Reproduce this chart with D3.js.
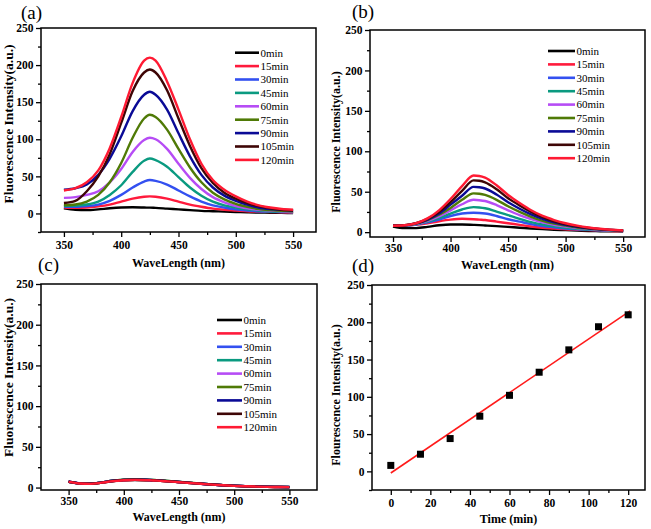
<!DOCTYPE html>
<html><head><meta charset="utf-8">
<script src="https://cdn.jsdelivr.net/npm/d3@7"></script>
<style>body{margin:0;background:#fff}svg{display:block}
svg text{font-family:"Liberation Serif","DejaVu Serif",serif;}
</style></head>
<body><svg id="chart" width="651" height="529"></svg>
<script>
const wavelengths=[350,360,370,380,390,400,410,420,425,430,440,450,460,470,480,490,500,510,520,530,540,550];
const seriesNames=["0min","15min","30min","45min","60min","75min","90min","105min","120min"];
const seriesColors=["#000000","#ff1a3c","#3350f0","#0a9a80","#b64cf5","#4f7a06","#0a0a96","#3e0505","#ff1a33"];

const panelA0=[7,5,4.5,5.5,7,8,8.3,8,7.8,7.5,6.5,5.5,4.5,3.5,3,2.5,2,1.5,1.2,1,0.8,0.6];
const panelA15=[8,7.5,8,9.5,12,16,20,22.5,23,22.5,20,16,12,9,6.5,5,4,3,2.5,2,1.5,1];
const panelA30=[9,9,10,12,17,25,35,43,45,44,39,31,23,16,11,8,5.5,4,3,2.5,2,1.5];
const panelA45=[10,10.5,12,16,25,38,56,71,74,72,63,49,35,24,16,11,8,5.5,4,3,2.5,2];
const panelA60=[21,22,25,30,42,60,83,99,102,100,87,67,48,33,22,15,10,7,5,4,3,2.5];
const panelA75=[11,12,16,25,42,68,102,128,133,130,113,87,62,42,28,19,13,9,6,4.5,3.5,3];
const panelA90=[32,34,39,52,74,104,138,160,164,160,140,108,77,52,35,24,17,12,8,6,5,4];
const panelA105=[14,17,30,50,80,122,165,190,194,190,166,128,91,61,41,28,20,14,10,7,5,4];
const panelA120=[31,34,42,58,88,130,176,206,210,206,178,140,100,67,45,32,23,16,11,8,6,5];

const panelB0=[7,5,5,6.5,8.5,9.5,9.5,9,8.7,8.3,7.5,6.5,5.5,4.5,3.7,3,2.5,2,1.5,1.2,1,0.8];
const panelB15=[8,8,9,11,13.5,15.5,16.5,16,15.5,15,13,11,9,7,5.5,4.5,3.5,3,2.5,2,1.5,1.2];
const panelB30=[8,8,9.5,12,15.5,20,23,24,23.7,23,20,16,13,10,7.5,6,4.5,3.5,3,2.2,1.8,1.4];
const panelB45=[8,8.2,10,13,17.5,23,28,31,30.5,29.5,25.5,21,16.5,12.5,9.5,7.2,5.5,4.2,3.2,2.5,2,1.5];
const panelB60=[8,8.3,10.3,14,19.5,27,34.5,40,39.5,38.5,33.5,27,21,16,12,9,6.8,5,3.8,2.8,2.2,1.6];
const panelB75=[8,8.4,10.5,15,21.5,30,40,48,47.5,46,40,32,25,19,14,10.5,8,5.8,4.3,3.2,2.4,1.7];
const panelB90=[8,8.4,10.8,15.5,23,34,45,56,55.5,54,46.5,37,29,22,16.5,12,9,6.5,4.8,3.5,2.6,1.8];
const panelB105=[8,8.5,11,16.5,25,37,51,64,63.5,61.5,53,42,33,25,18.5,13.5,10,7.2,5.2,3.8,2.8,2];
const panelB120=[8,8.5,11,17,27,41,57,70,69.5,67.5,58,46,36,27,20,15,11,8,5.8,4.2,3,2];

const panelC0=[7,5,4.5,6,7.8,8.8,9.2,9,8.8,8.5,7.6,6.6,5.6,4.6,3.6,2.8,2.1,1.6,1.2,0.9,0.7,0.5];
const panelC15=[7.2,5.2,4.6,6.1,8,9,9.4,9.1,8.9,8.6,7.7,6.7,5.6,4.6,3.6,2.8,2.1,1.6,1.2,0.9,0.7,0.5];
const panelC30=[7.1,5.1,4.7,6.3,8.2,9.3,9.7,9.4,9.1,8.8,7.9,6.8,5.7,4.7,3.7,2.9,2.2,1.7,1.3,1,0.7,0.5];
const panelC45=[7,5.1,4.8,6.4,8.4,9.5,9.9,9.6,9.3,9,8,6.9,5.8,4.8,3.8,2.9,2.2,1.7,1.3,1,0.8,0.6];
const panelC60=[7.1,5.2,4.8,6.3,8.3,9.4,9.8,9.5,9.2,8.9,7.9,6.9,5.8,4.7,3.7,2.9,2.2,1.7,1.3,1,0.8,0.6];
const panelC75=[7,5.1,4.7,6.4,8.5,9.6,10,9.7,9.4,9.1,8.1,7,5.9,4.8,3.8,3,2.3,1.7,1.3,1,0.8,0.6];
const panelC90=[7.2,5.2,4.8,6.3,8.3,9.4,9.8,9.5,9.2,8.9,7.9,6.9,5.8,4.7,3.7,2.9,2.2,1.7,1.3,1,0.8,0.6];
const panelC105=[7.1,5.1,4.6,6.1,8.1,9.2,9.6,9.3,9,8.7,7.8,6.8,5.7,4.7,3.7,2.8,2.1,1.6,1.2,0.9,0.7,0.5];
const panelC120=[7,5,4.5,6,7.9,9,9.4,9.1,8.8,8.5,7.6,6.6,5.6,4.6,3.6,2.8,2.1,1.6,1.2,0.9,0.7,0.5];

const timePoints=[0,15,30,45,60,75,90,105,120];
const peakIntensity=[8,23,44,74,102,133,163,194,210];

const yTicks=[0,50,100,150,200,250];
const yMinorTicks=[-25,25,75,125,175,225];
const waveTicks=[350,400,450,500,550];
const waveMinorTicks=[375,425,475,525];
const timeTicks=[0,20,40,60,80,100,120];
const timeMinorTicks=[-10,10,30,50,70,90,110];

const svg=d3.select("#chart");

function panel(o){
  const g=svg.append("g");
  const x=d3.scaleLinear().domain(o.xd).range([o.x0,o.x1]);
  const y=d3.scaleLinear().domain(o.yd).range([o.y1,o.y0]);
  const yMinor=o.ymin.filter(v=>v>=o.yd[0]&&v<=o.yd[1]);
  const xMinor=o.xmin.filter(v=>v>=o.xd[0]&&v<=o.xd[1]);
  g.append("g").attr("transform",`translate(${o.x0},0)`)
    .call(d3.axisLeft(y).tickValues(yTicks).tickSize(5).tickPadding(2.5));
  g.append("g").attr("transform",`translate(${o.x0},0)`)
    .call(d3.axisLeft(y).tickValues(yMinor).tickSize(3).tickFormat(""));
  g.append("g").attr("transform",`translate(0,${o.y1})`)
    .call(d3.axisBottom(x).tickValues(o.xt).tickSize(5).tickPadding(o.xpad));
  g.append("g").attr("transform",`translate(0,${o.y1})`)
    .call(d3.axisBottom(x).tickValues(xMinor).tickSize(3).tickFormat(""));
  g.selectAll(".domain").remove();
  g.selectAll("g").attr("font-family",null);
  g.selectAll(".tick line").attr("stroke","#000").attr("stroke-width",1.3);
  g.selectAll(".tick text").style("font-weight","bold")
    .style("font-size","11.5px").attr("fill","#000");
  g.append("rect").attr("x",o.x0).attr("y",o.y0).attr("width",o.x1-o.x0).attr("height",o.y1-o.y0)
    .attr("fill","none").attr("stroke","#000").attr("stroke-width",1.5);
  g.append("text").attr("transform",`translate(${o.ytx},${(o.y0+o.y1)/2+o.ytdy}) rotate(-90)`)
    .attr("text-anchor","middle").style("font-weight","bold")
    .style("font-size",o.yfs+"px").text(o.ytitle);
  g.append("text").attr("x",(o.x0+o.x1)/2).attr("y",o.xty)
    .attr("text-anchor","middle").style("font-weight","bold")
    .style("font-size","12px").text(o.xtitle);
  g.append("text").attr("x",o.lx).attr("y",o.ly)
    .style("font-size","19px").text(o.label);
  return {g,x,y};
}

function spectra(p,data,leg){
  const line=d3.line().x((d,i)=>p.x(wavelengths[i])).y(d=>p.y(d)).curve(d3.curveMonotoneX);
  data.forEach((arr,k)=>{
    p.g.append("path").datum(arr).attr("d",line).attr("fill","none")
      .attr("stroke",seriesColors[k]).attr("stroke-width",2.4);
  });
  seriesNames.forEach((n,k)=>{
    const yy=leg.y+k*leg.dy;
    p.g.append("line").attr("x1",leg.x).attr("x2",leg.x+leg.w).attr("y1",yy).attr("y2",yy)
      .attr("stroke",seriesColors[k]).attr("stroke-width",2.6);
    p.g.append("text").attr("x",leg.x+leg.w+1.5).attr("y",yy).attr("dy","0.35em")
      .style("font-size","11px").text(n);
  });
}

const pa=panel({x0:41,x1:316,y0:28,y1:232,xd:[330,570],yd:[-25,250],xt:waveTicks,xmin:waveMinorTicks,ymin:yMinorTicks,xpad:4,
  ytitle:"Fluorescence Intensity(a.u.)",ytx:12.5,ytdy:-6,yfs:13.5,xtitle:"WaveLength (nm)",xty:267,label:"(a)",lx:21,ly:19});
spectra(pa,[panelA0,panelA15,panelA30,panelA45,panelA60,panelA75,panelA90,panelA105,panelA120],{x:235,w:24,y:52.7,dy:13.4});

const pb=panel({x0:370,x1:645,y0:30,y1:237,xd:[330,569],yd:[-6,250],xt:waveTicks,xmin:waveMinorTicks,ymin:yMinorTicks,xpad:2,
  ytitle:"Fluorescence Intensity(a.u.)",ytx:340,ytdy:8.5,yfs:12,xtitle:"WaveLength (nm)",xty:269,label:"(b)",lx:352,ly:18});
spectra(pb,[panelB0,panelB15,panelB30,panelB45,panelB60,panelB75,panelB90,panelB105,panelB120],{x:548,w:27,y:51,dy:13.4});

const pc=panel({x0:41,x1:317,y0:284,y1:490,xd:[325,575],yd:[-3,250],xt:waveTicks,xmin:waveMinorTicks,ymin:yMinorTicks,xpad:2,
  ytitle:"Fluorescence Intensity(a.u.)",ytx:13,ytdy:-9.5,yfs:13.5,xtitle:"WaveLength (nm)",xty:521,label:"(c)",lx:38,ly:271});
spectra(pc,[panelC0,panelC15,panelC30,panelC45,panelC60,panelC75,panelC90,panelC105,panelC120],{x:217,w:25,y:320,dy:13.4});

const pd=panel({x0:372,x1:645,y0:285,y1:490,xd:[-9.5,128.5],yd:[-25,250],xt:timeTicks,xmin:timeMinorTicks,ymin:yMinorTicks,xpad:4,
  ytitle:"Flourescence Intensity(a.u.)",ytx:340,ytdy:7.5,yfs:12,xtitle:"Time (min)",xty:523,label:"(d)",lx:352,ly:272});
const mx=d3.mean(timePoints), my=d3.mean(peakIntensity);
const slope=d3.sum(timePoints,(t,i)=>(t-mx)*(peakIntensity[i]-my))/d3.sum(timePoints,t=>(t-mx)*(t-mx));
const icpt=my-slope*mx;
const t0=d3.min(timePoints), t1=d3.max(timePoints)+1;
pd.g.append("line").attr("x1",pd.x(t0)).attr("y1",pd.y(icpt+slope*t0)).attr("x2",pd.x(t1)).attr("y2",pd.y(icpt+slope*t1))
  .attr("stroke","#ff1a1a").attr("stroke-width",1.6);
pd.g.selectAll("rect.pt").data(timePoints).enter().append("rect").attr("class","pt")
  .attr("x",(d)=>pd.x(d)-3.5).attr("y",(d,i)=>pd.y(peakIntensity[i])-3.5).attr("width",7).attr("height",7).attr("fill","#000");
</script></body></html>
